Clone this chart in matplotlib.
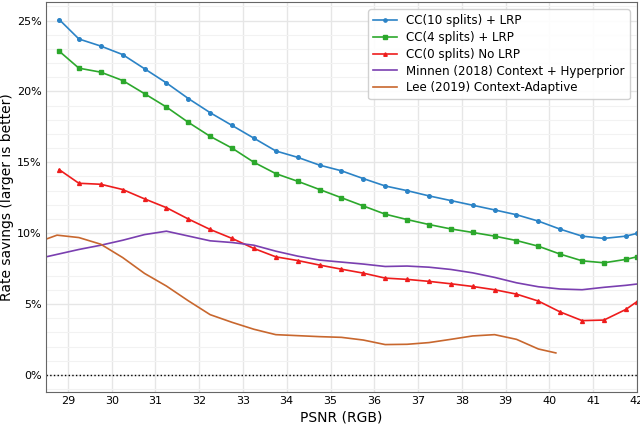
import matplotlib
matplotlib.use("Agg")
import matplotlib.pyplot as plt
from matplotlib.ticker import MultipleLocator, FuncFormatter

# PSNR points (marker curves)
psnr = [28.8, 29.25, 29.75, 30.25, 30.75, 31.25, 31.75, 32.25, 32.75, 33.25,
        33.75, 34.25, 34.75, 35.25, 35.75, 36.25, 36.75, 37.25, 37.75, 38.25,
        38.75, 39.25, 39.75, 40.25, 40.75, 41.25, 41.75, 42.0]

cc10 = [25.07, 23.7, 23.2, 22.6, 21.6, 20.6, 19.5, 18.5, 17.6, 16.7,
        15.8, 15.35, 14.8, 14.4, 13.85, 13.33, 13.0, 12.63, 12.3, 11.97,
        11.64, 11.3, 10.85, 10.28, 9.79, 9.63, 9.79, 9.98]
cc4 = [22.84, 21.64, 21.36, 20.77, 19.84, 18.9, 17.82, 16.83, 16.0, 15.0,
       14.2, 13.66, 13.08, 12.5, 11.92, 11.34, 10.96, 10.61, 10.3, 10.05,
       9.79, 9.48, 9.08, 8.52, 8.05, 7.91, 8.15, 8.33]
cc0 = [14.48, 13.52, 13.45, 13.08, 12.42, 11.8, 11.0, 10.26, 9.63, 8.92,
       8.33, 8.07, 7.75, 7.46, 7.18, 6.83, 6.74, 6.6, 6.43, 6.24,
       6.01, 5.7, 5.21, 4.44, 3.83, 3.87, 4.62, 5.16]

# Minnen (2018)
psnr_minnen = [28.5, 29.25, 29.75, 30.25, 30.75, 31.25, 31.75, 32.25, 32.75, 33.25,
               33.75, 34.25, 34.75, 35.25, 35.75, 36.25, 36.75, 37.25, 37.75, 38.25,
               38.75, 39.25, 39.75, 40.25, 40.75, 41.25, 41.75, 42.0]
minnen = [8.33, 8.85, 9.15, 9.5, 9.9, 10.14, 9.8, 9.46, 9.34, 9.15,
          8.73, 8.38, 8.1, 7.96, 7.82, 7.65, 7.68, 7.6, 7.44, 7.2,
          6.88, 6.5, 6.22, 6.06, 6.01, 6.18, 6.32, 6.41]

# Lee (2019)
psnr_lee = [28.5, 28.75, 29.25, 29.75, 30.25, 30.75, 31.25, 31.75, 32.25, 32.75,
            33.25, 33.75, 34.25, 34.75, 35.25, 35.75, 36.25, 36.75, 37.25, 37.75,
            38.25, 38.75, 39.25, 39.75, 40.15]
lee = [9.58, 9.86, 9.69, 9.22, 8.28, 7.16, 6.27, 5.23, 4.25, 3.71,
       3.22, 2.84, 2.77, 2.7, 2.65, 2.46, 2.14, 2.16, 2.28, 2.51,
       2.75, 2.84, 2.51, 1.83, 1.55]

fig, ax = plt.subplots(figsize=(6.4, 4.26), dpi=100)

ax.plot(psnr, cc10, color='#2b83c6', marker='o', markersize=2.6, lw=1.2, label='CC(10 splits) + LRP')
ax.plot(psnr, cc4, color='#2ca82c', marker='s', markersize=2.6, lw=1.2, label='CC(4 splits) + LRP')
ax.plot(psnr, cc0, color='#ee1c1c', marker='^', markersize=2.8, lw=1.2, label='CC(0 splits) No LRP')
ax.plot(psnr_minnen, minnen, color='#7a3fb0', lw=1.2, label='Minnen (2018) Context + Hyperprior')
ax.plot(psnr_lee, lee, color='#c8672e', lw=1.2, label='Lee (2019) Context-Adaptive')
ax.axhline(0, color='black', ls=':', lw=1)

ax.set_xlim(28.5, 42)
ax.set_ylim(-1.2, 26.3)
ax.xaxis.set_major_locator(MultipleLocator(1))
ax.yaxis.set_major_locator(MultipleLocator(5))
ax.yaxis.set_minor_locator(MultipleLocator(1))
ax.yaxis.set_major_formatter(FuncFormatter(lambda v, p: f"{v:.0f}%"))
ax.grid(which='major', color='#e6e6e6', lw=1)
ax.grid(which='minor', axis='y', color='#f2f2f2', lw=0.8)
ax.set_axisbelow(True)
ax.tick_params(which='both', length=0, labelsize=8, pad=3)
for s in ax.spines.values():
    s.set_color('#666666')

ax.set_xlabel('PSNR (RGB)', fontsize=10, labelpad=3)
ax.set_ylabel('Rate savings (larger is better)', fontsize=10, labelpad=2)
ax.legend(loc='upper right', fontsize=8.6, handlelength=2, labelspacing=0.32,
          markerscale=0.9, framealpha=0.9, borderaxespad=0.6)

fig.subplots_adjust(left=0.072, right=0.995, top=0.995, bottom=0.08)
fig.savefig('out.png', dpi=100)
